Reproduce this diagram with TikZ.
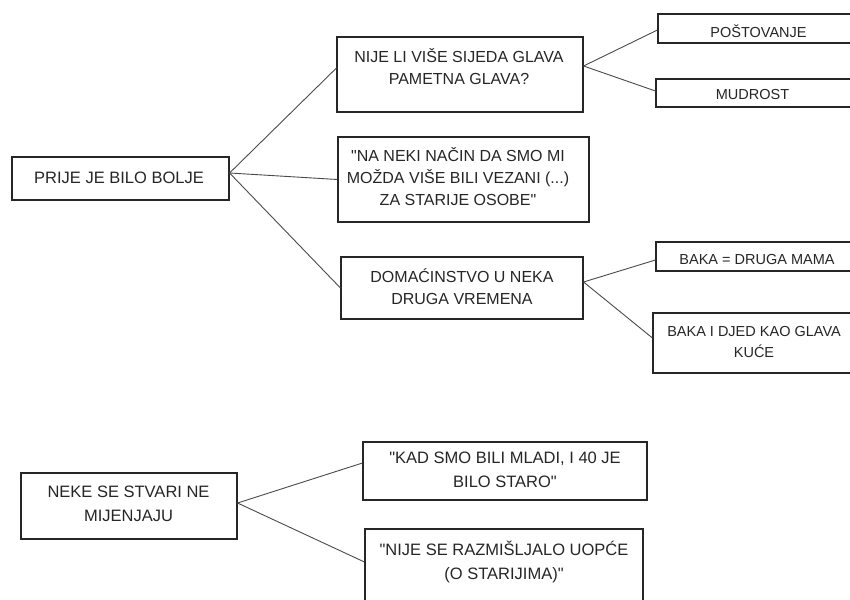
\documentclass[tikz,border=0pt]{standalone}
\usepackage{fontspec}
\setmainfont{Liberation Sans}[Ligatures=TeXOff]
\usetikzlibrary{calc}

\definecolor{inkgray}{HTML}{262626}
\definecolor{linegray}{HTML}{4A4A4A}

\begin{document}
\begin{tikzpicture}[x=1pt,y=-1pt,
        box/.style={draw=inkgray,line width=1.1pt,inner sep=0pt,fill=white},
        txt/.style={inner sep=0pt,align=center,text=inkgray},
        bigtxt/.style={txt,font=\fontsize{16.5}{24}\selectfont},
        midtxt/.style={txt,font=\fontsize{16}{22}\selectfont},
        smalltxt/.style={txt,font=\fontsize{14.5}{21}\selectfont},
        branch/.style={draw=linegray,line width=0.9pt}]
                \useasboundingbox (0,0) rectangle (850,599);
                \clip (0,0) rectangle (850,599);

                % first tree
                \node[box,minimum width=217pt,minimum height=43pt] (prije) at (120.5,178.5) {};
                \node[box,minimum width=246pt,minimum height=75pt] (sijeda) at (460,74.5) {};
                \node[box,minimum width=251pt,minimum height=85pt] (citat) at (463.5,179.5) {};
                \node[box,minimum width=242pt,minimum height=62pt] (domacinstvo) at (462,288) {};

                \node[box,minimum width=202pt,minimum height=29pt] (postovanje) at (759,28.5) {};
                \node[box,minimum width=204pt,minimum height=28pt] (mudrost) at (758,93) {};
                \node[box,minimum width=204pt,minimum height=29pt] (bakamama) at (758,256.5) {};
                \node[box,minimum width=207pt,minimum height=60pt] (bakadjed) at (756.5,343) {};

                % second tree
                \node[box,minimum width=216pt,minimum height=66pt] (neke) at (129,506) {};
                \node[box,minimum width=284pt,minimum height=58pt] (kad) at (505,471) {};
                \node[box,minimum width=278pt,minimum height=81pt] (nijese) at (504,569.5) {};

                \draw[branch] ([yshift=5.5pt]prije.east) -- ([yshift=6.5pt]sijeda.west);
                \draw[branch] ([yshift=5.5pt]prije.east) -- (citat.west);
                \draw[branch] ([yshift=5.5pt]prije.east) -- (domacinstvo.west);

                \draw[branch] ([yshift=8.5pt]sijeda.east) -- ([yshift=-1.5pt]postovanje.west);
                \draw[branch] ([yshift=8.5pt]sijeda.east) -- ([yshift=2pt]mudrost.west);
                \draw[branch] ([yshift=6pt]domacinstvo.east) -- ([yshift=-3.5pt]bakamama.west);
                \draw[branch] ([yshift=6pt]domacinstvo.east) -- ([yshift=5pt]bakadjed.west);

                \draw[branch] ([yshift=3pt]neke.east) -- ([yshift=8pt]kad.west);
                \draw[branch] ([yshift=3pt]neke.east) -- ([yshift=7.5pt]nijese.west);

                % texts
                \node[bigtxt] (prije-t) at (119,177.5) {PRIJE JE BILO BOLJE};
                \node[midtxt] (sijeda-t) at (459,67) {NIJE LI VIŠE SIJEDA GLAVA\\PAMETNA GLAVA?};
                \node[midtxt] (citat-t) at (458,176.5) {"NA NEKI NAČIN DA SMO MI\\MOŽDA VIŠE BILI VEZANI (...)\\ZA STARIJE OSOBE"};
                \node[midtxt] (domacinstvo-t) at (462,287) {DOMAĆINSTVO U NEKA\\DRUGA VREMENA};

                \node[smalltxt] (postovanje-t) at (758.5,31) {POŠTOVANJE};
                \node[smalltxt] (mudrost-t) at (752.5,95) {MUDROST};
                \node[smalltxt] (bakamama-t) at (757,259.5) {BAKA = DRUGA MAMA};
                \node[smalltxt] (bakadjed-t) at (754,342.5) {BAKA I DJED KAO GLAVA\\KUĆE};

                \node[bigtxt] (neke-t) at (128.5,504) {NEKE SE STVARI NE\\MIJENJAJU};
                \node[bigtxt] (kad-t) at (505,469.5) {"KAD SMO BILI MLADI, I 40 JE\\BILO STARO"};
                \node[bigtxt] (nijese-t) at (504,562) {"NIJE SE RAZMIŠLJALO UOPĆE\\(O STARIJIMA)"};
            \end{tikzpicture}
\end{document}
